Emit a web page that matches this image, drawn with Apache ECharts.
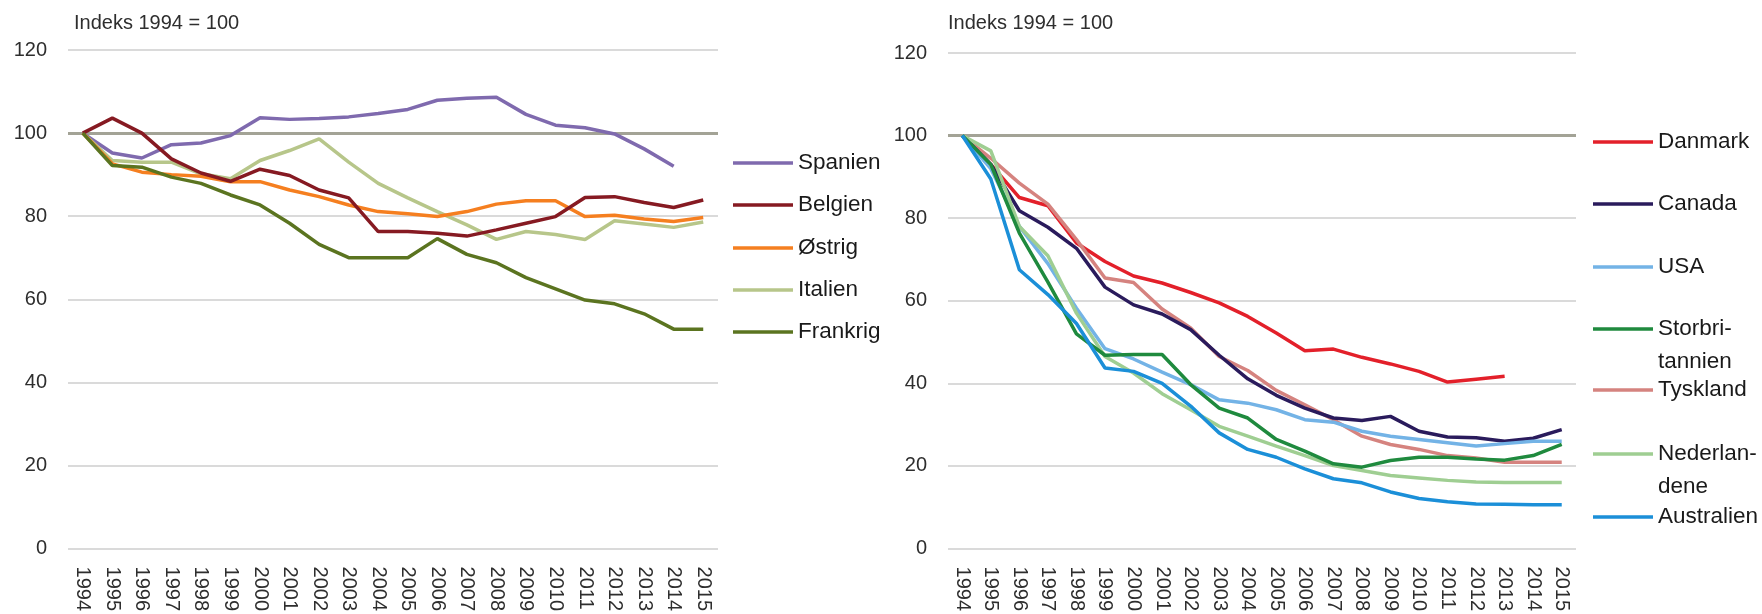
<!DOCTYPE html>
<html>
<head>
<meta charset="utf-8">
<script src="https://cdn.jsdelivr.net/npm/echarts@6/dist/echarts.min.js"></script>
<style>
html,body{margin:0;padding:0;background:#fff;}
#chart{width:1762px;height:614px;}
</style>
</head>
<body>
<div id="chart"></div>
<script>
const years = ['1994','1995','1996','1997','1998','1999','2000','2001','2002','2003','2004','2005','2006','2007','2008','2009','2010','2011','2012','2013','2014','2015'];
const yTicks = {min: 0, max: 120, interval: 20};
const titleText = 'Indeks 1994 = 100';

// Left panel
const spanien  = [100,95.2,94,97.2,97.6,99.4,103.7,103.3,103.5,103.9,104.7,105.7,107.9,108.4,108.6,104.5,101.9,101.3,99.8,96.2,92,null];
const belgien  = [100,103.6,100,93.8,90.4,88.4,91.3,89.8,86.3,84.4,76.3,76.3,75.9,75.2,76.7,78.3,79.9,84.5,84.7,83.3,82.1,83.9];
const ostrig   = [100,92.6,90.6,90,89.6,88.3,88.3,86.3,84.7,82.7,81.1,80.6,79.9,81.1,82.9,83.7,83.7,79.9,80.2,79.3,78.7,79.7];
const italien  = [100,93.4,93,93,90.2,89,93.4,95.8,98.6,93,87.9,84.4,81.1,77.9,74.4,76.3,75.6,74.4,78.9,78.1,77.3,78.6];
const frankrig = [100,92.2,91.8,89.4,87.9,85.1,82.7,78.3,73.2,70,70,70,74.6,70.8,68.8,65.2,62.5,59.8,58.9,56.5,52.8,52.8];

// Right panel
const danmark      = [100,93,85,83,74,69.5,66,64.3,62,59.5,56.2,52.2,47.9,48.3,46.3,44.7,42.9,40.3,41,41.7,null,null];
const canada       = [100,93,81.8,77.8,72.7,63.3,59,56.8,53,46.8,41.1,37.1,34,31.6,31,32,28.4,27,26.8,26,26.7,28.8];
const usa          = [100,92,78,69,58.2,48.4,45.9,42.7,39.7,36,35.2,33.6,31.2,30.6,28.4,27.2,26.4,25.6,24.8,25.4,26,26];
const storbritannien = [100,93,76.4,64.5,52,46.8,47,47,39.7,34,31.6,26.4,23.6,20.5,19.7,21.3,22.1,22.1,21.7,21.4,22.5,25.2];
const tyskland     = [100,94.5,88.5,83.4,74.8,65.5,64.4,58,53.4,46.5,43.1,38.3,34.8,31.2,27.2,25.2,24,22.5,21.9,20.9,20.9,20.9];
const nederlandene = [100,96.3,78,70.9,57,46.5,42.5,37.5,33.6,29.6,27.2,24.8,22.5,20.1,18.9,17.7,17.1,16.5,16.1,16,16,16];
const australien   = [100,89.5,67.5,61.5,54.5,43.7,42.9,40,34.5,28,24,22.1,19.3,16.9,15.9,13.7,12.1,11.3,10.8,10.7,10.6,10.6];

const leftNames  = ['Spanien','Belgien','Østrig','Italien','Frankrig'];
const leftLabels = ['Spanien','Belgien','Østrig','Italien','Frankrig'];
const rightNames = ['Danmark','Canada','USA','Storbritannien','Tyskland','Nederlandene','Australien'];
const rightLabels = ['Danmark','Canada','USA','\nStorbri-\ntannien','Tyskland','\nNederlan-\ndene','Australien'];

const FONT = "'Liberation Sans', Arial, sans-serif";
const LH = 33;

const chart = echarts.init(document.getElementById('chart'), null, {renderer: 'canvas'});

function makeSeries(name, data, color, gi, withRef) {
  const s = {
    name: name, type: 'line', data: data, xAxisIndex: gi, yAxisIndex: gi,
    symbol: 'none', smooth: false, connectNulls: false,
    lineStyle: {color: color, width: 3.5}, itemStyle: {color: color},
    emphasis: {disabled: true}
  };
  if (withRef) {
    s.markLine = {
      silent: true, symbol: 'none', label: {show: false},
      lineStyle: {color: '#a3a396', width: 3, type: 'solid'},
      data: [{yAxis: 100}], z: 1
    };
  }
  return s;
}

function makeLegend(name, label, x, cy) {
  const lines = label.split('\n').length;
  return {
    show: true, selectedMode: false, data: [name], orient: 'vertical',
    left: x, top: cy - lines * LH / 2, padding: 0,
    icon: 'rect', itemWidth: 60, itemHeight: 3.5,
    formatter: function () { return label; },
    textStyle: {fontSize: 22.5, lineHeight: LH, color: '#1a1a1a', fontFamily: FONT}
  };
}

const leftCY = [163, 205, 248, 290, 332];
const rightCY = [142, 204, 267, 329, 390, 454, 517];

const legends = [];
leftNames.forEach((n, i) => legends.push(makeLegend(n, leftLabels[i], 733, leftCY[i])));
rightNames.forEach((n, i) => legends.push(makeLegend(n, rightLabels[i], 1593, rightCY[i])));

function xAxisFor(gi) {
  return {
    type: 'category', gridIndex: gi, data: years, boundaryGap: true,
    axisLine: {show: false}, axisTick: {show: false},
    axisLabel: {rotate: -90, interval: 0, margin: 18, fontSize: 20, color: '#2e2e2e', fontFamily: FONT},
    splitLine: {show: false}
  };
}
function yAxisFor(gi) {
  return {
    type: 'value', gridIndex: gi, min: yTicks.min, max: yTicks.max, interval: yTicks.interval,
    axisLine: {show: false}, axisTick: {show: false},
    axisLabel: {margin: 21, fontSize: 20, color: '#2e2e2e', fontFamily: FONT},
    splitLine: {show: true, lineStyle: {color: '#dadada', width: 2}}
  };
}

const option = {
  backgroundColor: '#ffffff',
  animation: false,
  title: [
    {text: titleText, left: 74, top: 13, padding: 0, textStyle: {fontSize: 20, fontWeight: 'normal', color: '#2e2e2e', fontFamily: FONT}},
    {text: titleText, left: 948, top: 13, padding: 0, textStyle: {fontSize: 20, fontWeight: 'normal', color: '#2e2e2e', fontFamily: FONT}}
  ],
  legend: legends,
  grid: [
    {left: 68, top: 50, width: 650, height: 504, containLabel: false},
    {left: 948, top: 53, width: 628, height: 503, containLabel: false}
  ],
  xAxis: [xAxisFor(0), xAxisFor(1)],
  yAxis: [yAxisFor(0), yAxisFor(1)],
  series: [
    makeSeries('Spanien', spanien, '#7f6aae', 0, true),
    makeSeries('Italien', italien, '#b7c68a', 0, false),
    makeSeries('Østrig', ostrig, '#f57f20', 0, false),
    makeSeries('Belgien', belgien, '#861a22', 0, false),
    makeSeries('Frankrig', frankrig, '#5b7420', 0, false),
    makeSeries('Danmark', danmark, '#e3202a', 1, true),
    makeSeries('Tyskland', tyskland, '#d5837f', 1, false),
    makeSeries('Canada', canada, '#2a1b5c', 1, false),
    makeSeries('USA', usa, '#73b3e6', 1, false),
    makeSeries('Nederlandene', nederlandene, '#9fce92', 1, false),
    makeSeries('Storbritannien', storbritannien, '#1f8a3e', 1, false),
    makeSeries('Australien', australien, '#1b8fd8', 1, false)
  ]
};
chart.setOption(option);
</script>
</body>
</html>
